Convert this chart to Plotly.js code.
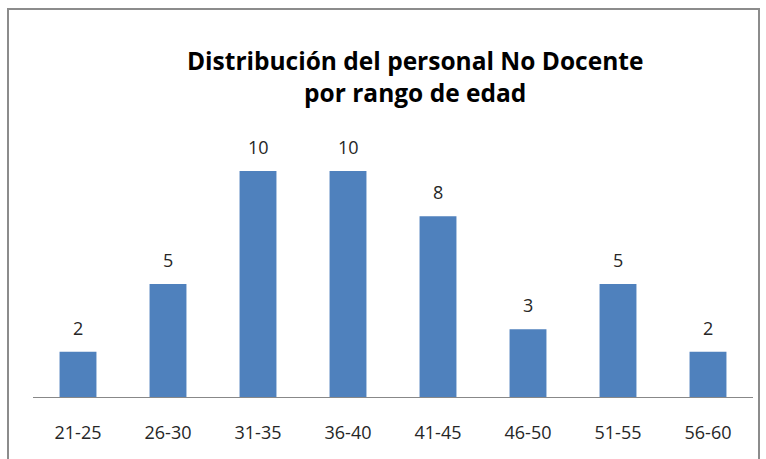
<!DOCTYPE html>
<html><head><meta charset="utf-8">
<script src="https://cdn.plot.ly/plotly-3.0.1.min.js"></script>
<style>
html,body{margin:0;padding:0;background:#fff;}
#wrap{position:relative;width:766px;height:459px;overflow:hidden;}
#chart{width:766px;height:459px;}
#frame{position:absolute;left:7px;top:8px;width:749px;height:470px;border:2px solid #8c8c8c;pointer-events:none;}
</style></head>
<body>
<div id="wrap"><div id="chart"></div><div id="frame"></div></div>
<script>
const categories = ["21-25","26-30","31-35","36-40","41-45","46-50","51-55","56-60"];
const values = [2,5,10,10,8,3,5,2];

const trace = {
  type: 'bar', x: categories, y: values,
  marker: {color: '#4F81BD'}, width: 0.41, hoverinfo: 'none'
};
const annotations = categories.map((c,i)=>({
  x: c, y: values[i], xref:'x', yref:'y', text: String(values[i]),
  showarrow:false, yanchor:'bottom', yshift:10,
  font:{family:'Open Sans, sans-serif', size:18, color:'#262626'}
}));
const layout = {
  width:766, height:459,
  margin:{l:33, r:13, t:137, b:62},
  paper_bgcolor:'#fff', plot_bgcolor:'#fff',
  showlegend:false,
  title:{text:'<b>Distribución del personal No Docente<br>por rango de edad</b>',
    x:0.542, xref:'container', xanchor:'center', y:0.847, yref:'container', yanchor:'middle',
    font:{family:'Open Sans, sans-serif', size:24.5, color:'#000'}},
  xaxis:{type:'category', showline:true, linecolor:'#888', linewidth:1, ticks:'', showgrid:false,
    tickfont:{family:'Open Sans, sans-serif', size:18, color:'#262626'}, ticklabelstandoff:19, fixedrange:true},
  yaxis:{range:[0,11.5], visible:false, showgrid:false, zeroline:false, fixedrange:true},
  annotations: annotations
};
Plotly.newPlot('chart',[trace],layout,{displayModeBar:false, staticPlot:true});
</script>
</body></html>
